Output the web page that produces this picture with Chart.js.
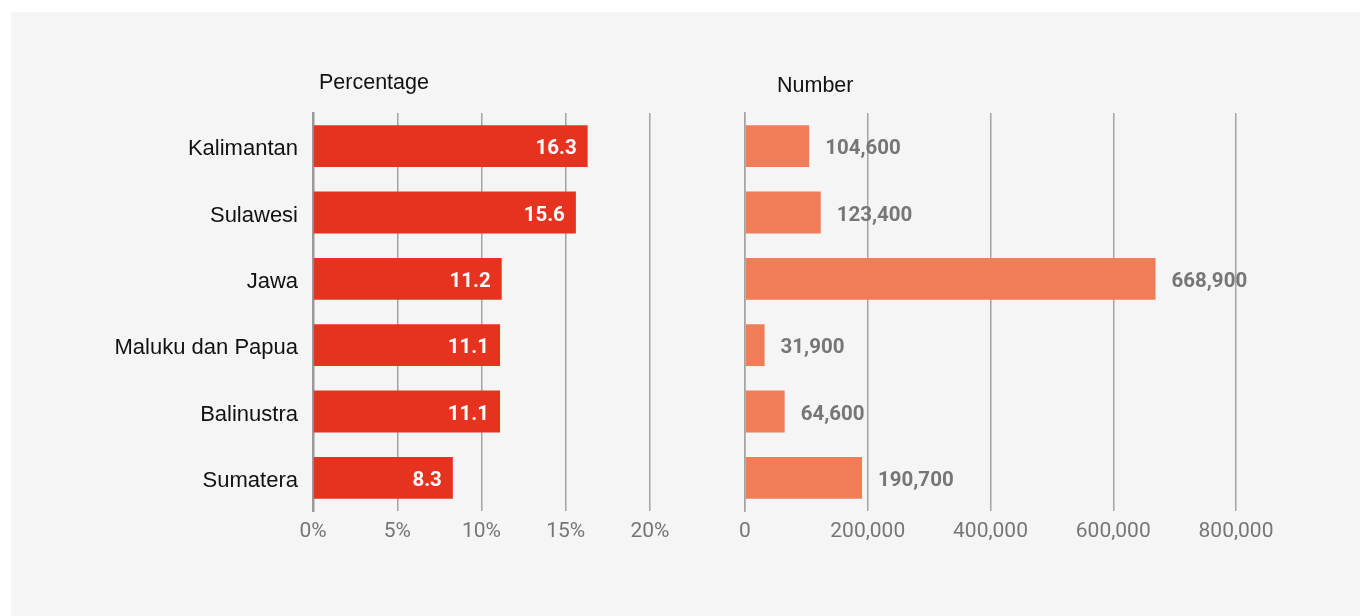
<!DOCTYPE html>
<html>
<head>
<meta charset="utf-8">
<script src="https://cdn.jsdelivr.net/npm/chart.js@4.4.1/dist/chart.umd.min.js"></script>
<style>
  html, body { margin: 0; padding: 0; background: #fff; }
  #wrap { position: relative; width: 1360px; height: 616px; overflow: hidden; }
  #panel { position: absolute; left: 11px; top: 12px; right: 0; bottom: 0; background: #f5f5f5; }
  #c1 { position: absolute; left: 0; top: 0; }
  #c2 { position: absolute; left: 700px; top: 0; }
</style>
</head>
<body>
<div id="wrap">
  <div id="panel"></div>
  <canvas id="c1" width="700" height="616"></canvas>
  <canvas id="c2" width="660" height="616"></canvas>
</div>
<script>
"use strict";

var regions = ['Kalimantan', 'Sulawesi', 'Jawa', 'Maluku dan Papua', 'Balinustra', 'Sumatera'];
var percentValues = [16.3, 15.6, 11.2, 11.1, 11.1, 8.3];
var numberValues = [104600, 123400, 668900, 31900, 64600, 190700];
var percentTicks = [0, 5, 10, 15, 20];
var numberTicks = [0, 200000, 400000, 600000, 800000];

var gridGray = '#a3a3a3';
var tickGray = '#767676';

// draws the value labels and the panel heading (no datalabels plugin available offline)
var barLabels = {
    id: 'barLabels',
    afterDatasetsDraw: function (chart, args, opts) {
        var ctx = chart.ctx;
        var meta = chart.getDatasetMeta(0);
        var data = chart.data.datasets[0].data;
        ctx.save();
        ctx.font = 'bold 20.5px Roboto';
        ctx.textBaseline = 'middle';
        meta.data.forEach(function (bar, i) {
            var txt = opts.format(data[i]);
            if (opts.inside) {
                ctx.fillStyle = '#ffffff';
                ctx.textAlign = 'right';
                ctx.fillText(txt, bar.x - 11, bar.y + 3);
            } else {
                ctx.fillStyle = tickGray;
                ctx.textAlign = 'left';
                ctx.fillText(txt, bar.x + 16, bar.y + 3);
            }
        });
        ctx.font = '21.5px "Liberation Sans", Arial, sans-serif';
        ctx.fillStyle = '#111';
        ctx.textAlign = 'left';
        ctx.fillText(opts.heading, chart.chartArea.left + opts.headingDx, opts.headingY);
        ctx.restore();
    }
};

function makeChart(id, values, ticks, color, yAxisWidth, padRight, showCats, labelOpts, tickFmt) {
    var ctx = document.getElementById(id).getContext('2d');
    return new Chart(ctx, {
        type: 'bar',
        data: {
            labels: regions,
            datasets: [{
                data: values,
                backgroundColor: color,
                barPercentage: 0.63,
                categoryPercentage: 1
            }]
        },
        options: {
            indexAxis: 'y',
            responsive: false,
            animation: false,
            layout: { padding: { top: 113, right: padRight, bottom: 65, left: 0 } },
            plugins: {
                legend: { display: false },
                tooltip: { enabled: false },
                barLabels: labelOpts
            },
            scales: {
                x: {
                    min: ticks[0],
                    max: ticks[ticks.length - 1],
                    afterBuildTicks: function (axis) {
                        axis.ticks = ticks.map(function (v) { return { value: v }; });
                    },
                    afterFit: function (axis) { axis.height = 40; },
                    grid: { color: gridGray, lineWidth: 1.5, drawTicks: false },
                    border: { display: false },
                    ticks: {
                        padding: 8,
                        color: tickGray,
                        font: { family: 'Roboto', size: 21 },
                        callback: tickFmt
                    }
                },
                y: {
                    afterFit: function (axis) { axis.width = yAxisWidth; },
                    grid: { display: false, drawTicks: false },
                    border: showCats ? { display: true, color: '#9a9a9a', width: 2.5 }
                                     : { display: true, color: gridGray, width: 1.5 },
                    ticks: {
                        display: showCats,
                        padding: 15,
                        labelOffset: 3,
                        color: '#111',
                        font: { family: '"Liberation Sans", Arial, sans-serif', size: 22 }
                    }
                }
            }
        },
        plugins: [barLabels]
    });
}

makeChart('c1', percentValues, percentTicks, '#e5331f', 313, 50, true,
    { inside: true, heading: 'Percentage', headingDx: 6, headingY: 83,
      format: function (v) { return v.toFixed(1); } },
    function (v) { return v + '%'; });

makeChart('c2', numberValues, numberTicks, '#f07d58', 45, 124, false,
    { inside: false, heading: 'Number', headingDx: 32, headingY: 86,
      format: function (v) { return v.toLocaleString('en-US'); } },
    function (v) { return v.toLocaleString('en-US'); });
</script>
</body>
</html>
